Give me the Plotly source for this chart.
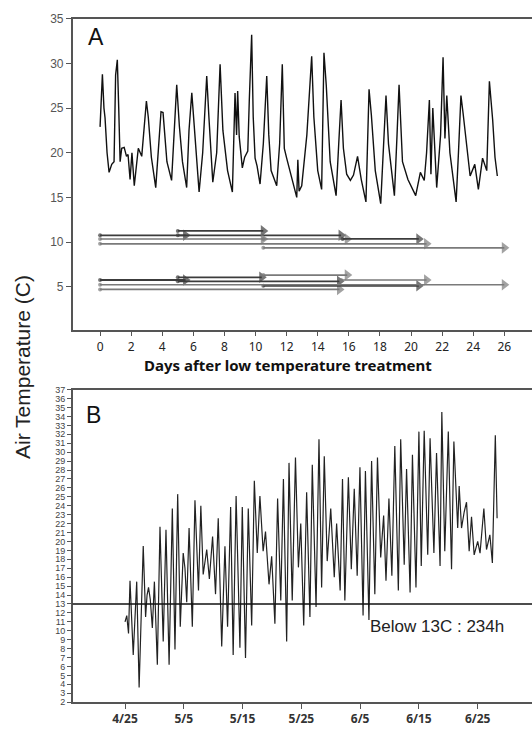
import plotly.graph_objects as go

# ---------------- data ----------------
# Panel A: air temperature vs days after low temperature treatment
a_days = [0.00, 0.05, 0.15, 0.25, 0.32, 0.45, 0.58, 0.75, 0.90, 1.00,
          1.11, 1.20, 1.29, 1.39, 1.55, 1.70, 1.80, 1.93, 2.05, 2.20,
          2.35, 2.46, 2.68, 2.83, 2.98, 3.10, 3.30, 3.58, 3.75, 3.92,
          4.05, 4.30, 4.60, 4.75, 4.93, 5.10, 5.30, 5.57, 5.72, 5.90,
          6.05, 6.37, 6.60, 6.86, 7.00, 7.25, 7.50, 7.72, 7.90, 8.20,
          8.51, 8.60, 8.68, 8.78, 8.85, 8.95, 9.15, 9.30, 9.50, 9.60,
          9.75, 9.85, 9.97, 10.10, 10.29, 10.50, 10.72, 10.85, 11.00, 11.36,
          11.55, 11.72, 11.85, 12.00, 12.30, 12.65, 12.72, 12.80, 12.97, 13.30,
          13.61, 13.75, 14.00, 14.25, 14.40, 14.55, 14.80, 15.18, 15.35, 15.50,
          15.65, 15.86, 16.10, 16.30, 16.56, 16.80, 17.10, 17.30, 17.45, 17.70,
          18.05, 18.20, 18.39, 18.55, 18.93, 19.10, 19.23, 19.45, 19.80, 20.30,
          20.60, 20.85, 21.00, 21.18, 21.28, 21.40, 21.65, 21.90, 22.06, 22.18,
          22.30, 22.50, 22.90, 23.05, 23.21, 23.35, 23.80, 24.10, 24.33, 24.60,
          24.87, 25.04, 25.25, 25.40, 25.55]
a_temp = [22.9, 25.5, 28.8, 25.0, 23.9, 20.0, 17.8, 18.7, 19.0, 28.7,
          30.4, 25.0, 19.0, 20.5, 20.6, 19.6, 19.8, 17.0, 20.0, 16.3,
          19.0, 20.5, 19.6, 22.4, 25.8, 24.0, 19.5, 16.1, 20.5, 24.6,
          24.5, 19.0, 16.9, 21.5, 27.6, 23.0, 19.0, 16.1, 22.5, 26.7,
          23.0, 15.6, 20.0, 28.6, 24.0, 16.7, 20.0, 29.9, 22.5, 18.0,
          15.6, 21.0, 26.7, 22.0, 26.9, 21.8, 18.3, 19.5, 20.2, 26.0,
          33.2, 24.0, 19.4, 18.5, 16.5, 21.0, 28.6, 22.0, 18.0, 16.3,
          21.0, 29.9, 20.5, 19.4, 17.5, 15.0, 19.2, 15.7, 16.3, 22.0,
          30.8, 24.0, 18.0, 15.9, 31.2, 27.5, 19.0, 15.2, 21.0, 25.9,
          20.5, 17.6, 16.9, 17.5, 19.6, 17.0, 14.5, 27.1, 24.2, 18.0,
          14.3, 20.0, 26.4, 21.0, 15.2, 22.0, 27.6, 19.0, 17.0, 15.2,
          17.8, 16.9, 20.0, 25.9, 17.6, 25.0, 16.1, 22.0, 30.7, 21.6,
          26.4, 20.0, 14.5, 20.0, 26.4, 24.4, 17.4, 18.7, 15.9, 19.4,
          18.0, 28.0, 23.7, 19.5, 17.4]

# Panel A: treatment periods (start day, end day, treatment temperature)
arrow_start = [0.0, 5.0, 5.0, 0.0, 10.5, 15.6, 0.0, 10.5,
               0.0, 5.0, 5.0, 0.0, 10.5, 10.5, 15.5, 0.0]
arrow_end   = [5.5, 10.5, 15.5, 10.5, 15.9, 20.5, 21.0, 26.0,
               5.5, 10.4, 15.4, 15.4, 15.9, 20.5, 21.0, 26.0]
arrow_temp  = [10.75, 11.25, 10.75, 10.35, 10.35, 10.35, 9.8, 9.35,
               5.75, 6.05, 5.6, 4.7, 6.3, 5.1, 5.75, 5.22]
arrow_group = ["d", "d", "d", "g", "g", "d", "g", "g",
               "d", "d", "d", "g", "g", "d", "g", "g"]

a_xticks = [0, 2, 4, 6, 8, 10, 12, 14, 16, 18, 20, 22, 24, 26]
a_yticks = [5, 10, 15, 20, 25, 30, 35]

# Panel B: air temperature, days from 4/25
b_days = [0.0, 0.3, 0.6, 0.85, 1.4, 1.99, 2.4, 2.8, 3.1, 3.5,
          3.75, 4.0, 4.3, 4.65, 5.0, 5.5, 5.95, 6.5, 6.97, 7.5,
          8.05, 8.5, 8.96, 9.4, 9.9, 10.2, 10.5, 10.9, 11.45, 11.9,
          12.5, 12.9, 13.3, 13.9, 14.35, 14.9, 15.4, 15.86, 16.45, 17.0,
          17.45, 17.97, 18.4, 18.9, 19.55, 19.95, 20.5, 20.97, 21.55, 22.0,
          22.5, 22.95, 23.5, 23.9, 24.5, 24.95, 25.5, 25.96, 26.5, 26.95,
          27.5, 27.9, 28.45, 29.0, 29.5, 29.9, 30.4, 30.9, 31.46, 31.86,
          32.5, 33.0, 33.45, 33.9, 34.4, 35.0, 35.6, 36.0, 36.6, 37.0,
          37.4, 38.0, 38.5, 39.0, 39.5, 39.97, 40.5, 40.9, 41.5, 41.95,
          42.5, 42.95, 43.5, 44.0, 44.4, 44.9, 45.4, 45.9, 46.5, 46.9,
          47.5, 47.9, 48.5, 48.9, 49.5, 50.0, 50.4, 50.9, 51.5, 51.9,
          52.55, 53.0, 53.6, 53.9, 54.4, 55.0, 55.55, 55.95, 56.6, 56.85,
          57.25, 57.7, 58.1, 58.55, 58.95, 59.4, 60.0, 60.4, 61.05, 61.5,
          62.07, 62.5, 63.0, 63.3]
b_temp = [11.0, 11.7, 9.7, 15.6, 7.3, 15.5, 3.65, 12.0, 19.5, 11.55,
          14.0, 14.85, 13.5, 10.3, 15.5, 6.2, 21.65, 8.8, 21.3, 6.2,
          23.7, 7.9, 25.3, 10.45, 18.7, 17.0, 13.2, 21.5, 10.45, 24.6,
          14.5, 24.0, 16.3, 19.1, 15.8, 20.55, 14.1, 22.6, 8.25, 19.45,
          10.45, 23.85, 7.3, 25.1, 8.1, 23.85, 6.95, 23.7, 10.6, 26.8,
          18.7, 25.1, 18.9, 21.1, 15.2, 18.35, 10.8, 24.8, 13.4, 27.0,
          8.8, 28.8, 13.4, 29.4, 17.1, 22.0, 10.6, 25.5, 11.55, 28.6,
          12.65, 31.45, 14.85, 29.55, 17.8, 23.7, 16.0, 22.0, 14.5, 27.0,
          13.4, 27.2, 16.9, 25.9, 16.15, 28.3, 11.7, 27.9, 11.2, 29.0,
          14.1, 29.4, 18.2, 22.9, 15.6, 24.8, 16.15, 30.7, 14.5, 31.45,
          17.4, 28.1, 14.3, 29.7, 14.85, 32.3, 17.25, 32.4, 18.5, 31.55,
          18.7, 29.9, 17.25, 34.5, 18.9, 32.3, 16.9, 31.2, 21.5, 26.2,
          21.5, 23.3, 24.4, 18.9, 22.75, 18.5, 20.0, 18.7, 23.7, 19.1,
          20.75, 17.6, 31.9, 22.6]

b_tick_days = [0, 10, 20, 30, 40, 50, 60]
b_tick_labels = ["4/25", "5/5", "5/15", "5/25", "6/5", "6/15", "6/25"]
b_yticks = list(range(2, 38))
threshold = 13
note_text = "Below 13C : 234h"
note_day = 53.1
note_temp = 10.45

# ---------------- figure ----------------
W, H = 532, 737
fig = go.Figure()

fig.add_trace(go.Scatter(x=a_days, y=a_temp, mode="lines",
                         line=dict(color="#111111", width=1.4),
                         xaxis="x", yaxis="y", showlegend=False))

style = {"d": dict(color="#3c3c3c", width=1.8), "g": dict(color="#7a7a7a", width=1.6)}
for s, e, t, g in zip(arrow_start, arrow_end, arrow_temp, arrow_group):
    st = style[g]
    fig.add_trace(go.Scatter(
        x=[s, e], y=[t, t], mode="lines+markers",
        line=dict(color=st["color"], width=st["width"]),
        marker=dict(symbol=["circle", "triangle-right"], size=[4, 10],
                    color=st["color"], line=dict(width=0)),
        xaxis="x", yaxis="y", showlegend=False))

fig.add_trace(go.Scatter(x=b_days, y=b_temp, mode="lines",
                         line=dict(color="#222222", width=1.2),
                         xaxis="x2", yaxis="y2", showlegend=False))

xa = [72.7 / W, 1.0]
ya = [1 - 328 / H, 1 - 12 / H]
yb = [1 - 706.7 / H, 1 - 389 / H]

axis_common = dict(showline=True, linecolor="#555555", linewidth=1.5,
                   showgrid=False, zeroline=False, ticks="outside",
                   tickcolor="#555555", ticklen=5, tickwidth=1)

fig.update_layout(
    width=W, height=H, margin=dict(l=0, r=0, t=0, b=0),
    paper_bgcolor="white", plot_bgcolor="white",
    xaxis=dict(domain=xa, range=[-1.76, 27.78], tickvals=a_xticks,
               mirror=True, anchor="y",
               tickfont=dict(family="Noto Sans", size=12, color="#222222"),
               **axis_common),
    yaxis=dict(domain=ya, range=[0.19, 35.0], tickvals=a_yticks, anchor="x",
               tickfont=dict(family="Liberation Sans", size=12, color="#555555"),
               **axis_common),
    xaxis2=dict(domain=xa, range=[-8.9, 69.24], tickvals=b_tick_days,
                ticktext=b_tick_labels, mirror=True, anchor="y2",
                tickfont=dict(family="Noto Sans", size=12, color="#333333", weight="bold"),
                **axis_common),
    yaxis2=dict(domain=yb, range=[2, 37], tickvals=b_yticks, anchor="x2",
                tickfont=dict(family="Liberation Sans Narrow, Liberation Sans", size=9,
                              color="#444444"),
                **{**axis_common, "ticklen": 4}),
)

fig.add_shape(type="line", xref="x2 domain", yref="y2", x0=0, x1=1,
              y0=threshold, y1=threshold, line=dict(color="#111111", width=1.6))

fig.add_annotation(x=note_day, y=note_temp, xref="x2", yref="y2", text=note_text,
                   showarrow=False, font=dict(family="Liberation Sans", size=17, color="#222222"))

fig.add_annotation(x=95.5 / W, y=1 - 30 / H, xref="paper", yref="paper", text="A",
                   showarrow=False, xanchor="center", yanchor="middle",
                   font=dict(family="Liberation Sans", size=23, color="#111111"))
fig.add_annotation(x=93.4 / W, y=1 - 414.7 / H, xref="paper", yref="paper", text="B",
                   showarrow=False, xanchor="center", yanchor="middle",
                   font=dict(family="Liberation Sans", size=23, color="#111111"))
fig.add_annotation(x=22 / W, y=1 - 366 / H, xref="paper", yref="paper",
                   text="Air Temperature (C)", textangle=-90, showarrow=False,
                   xanchor="center", yanchor="middle",
                   font=dict(family="Liberation Sans", size=21, color="#222222"))
fig.add_annotation(x=287.5 / W, y=1 - 364 / H, xref="paper", yref="paper",
                   text="Days after low temperature treatment", showarrow=False,
                   xanchor="center", yanchor="middle",
                   font=dict(family="Noto Sans", size=15, color="#111111", weight="bold"))

fig.write_html("out.html")
